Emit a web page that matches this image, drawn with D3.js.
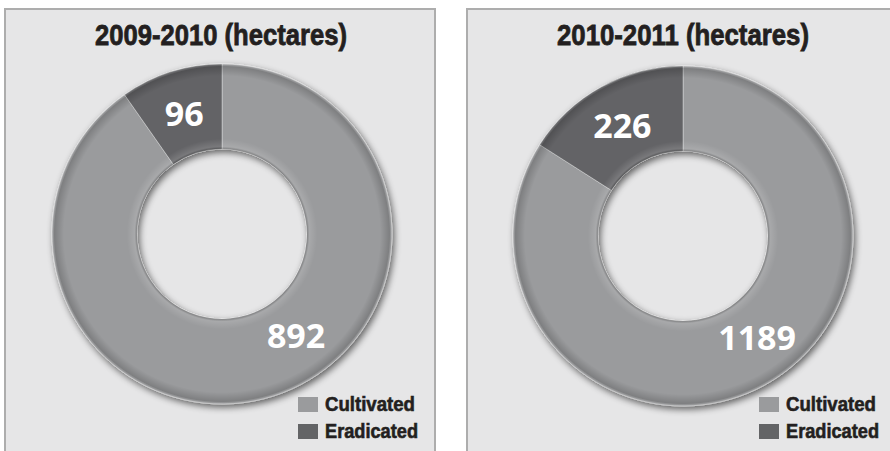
<!DOCTYPE html>
<html>
<head>
<meta charset="utf-8">
<script src="https://cdn.jsdelivr.net/npm/d3@7"></script>
<style>
  body { margin: 0; background: #fff; }
  svg { display: block; }
</style>
</head>
<body>
<div id="container"></div>
<script>
/* CONSTANTS AND GLOBALS */
const width = 890,
  height = 451,
  outerR = 170,
  innerR = 85

/* DATA */
const titles = ['2009-2010 (hectares)', '2010-2011 (hectares)']
const categories = ['Cultivated', 'Eradicated']
const values2009 = [892, 96]
const values2010 = [1189, 226]
const seriesValues = [values2009, values2010]

const colors = { Cultivated: '#9a9b9d', Eradicated: '#636466' }

// panel placement (left edge of each framed box)
const panelX = [5, 467]
const panelW = 430

// the condensed face isn't installed, so squeeze the text to the widths seen
const titleWidth = 252
const legendWidth = { Cultivated: 90, Eradicated: 93 }
const condensedFont = '"Liberation Sans", Arial, sans-serif'

const svg = d3.select('#container')
  .append('svg')
  .attr('width', width)
  .attr('height', height)

const defs = svg.append('defs')

// drop shadow for the rings
const shadow = defs.append('filter')
  .attr('id', 'shadow')
  .attr('x', '-20%').attr('y', '-20%')
  .attr('width', '140%').attr('height', '140%')
shadow.append('feGaussianBlur').attr('in', 'SourceAlpha').attr('stdDeviation', 3.5).attr('result', 'blur')
shadow.append('feOffset').attr('in', 'blur').attr('dx', 2).attr('dy', 3).attr('result', 'off')
shadow.append('feComponentTransfer').attr('in', 'off').attr('result', 'soft')
  .append('feFuncA').attr('type', 'linear').attr('slope', 0.6)
const merge = shadow.append('feMerge')
merge.append('feMergeNode').attr('in', 'soft')
merge.append('feMergeNode').attr('in', 'SourceGraphic')

// bevel shading across the ring thickness
const bevel = defs.append('radialGradient')
  .attr('id', 'bevel')
  .attr('cx', 0).attr('cy', 0).attr('r', outerR)
  .attr('gradientUnits', 'userSpaceOnUse')
const bevelStops = [
  [0.50, '#000', 0.25],
  [0.515, '#fff', 0.14],
  [0.56, '#fff', 0.0],
  [0.93, '#000', 0.0],
  [0.985, '#000', 0.18],
  [1.0, '#fff', 0.15]
]
bevel.selectAll('stop')
  .data(bevelStops)
  .join('stop')
  .attr('offset', d => d[0])
  .attr('stop-color', d => d[1])
  .attr('stop-opacity', d => d[2])

const pie = d3.pie()
  .sort(null)
  .value(d => d.value)

const arc = d3.arc()
  .innerRadius(innerR)
  .outerRadius(outerR)

const labelArc = d3.arc()
  .innerRadius(innerR - 3)
  .outerRadius(outerR)

// where the big cultivated number sits (clockwise angle from 12 o'clock)
const cultivatedLabelAngle = 144 * Math.PI / 180

seriesValues.forEach((vals, i) => {
  const data = categories.map((c, j) => ({ key: c, value: vals[j] }))
  const x0 = panelX[i]

  const panel = svg.append('g')
    .attr('transform', `translate(${x0}, 0)`)

  panel.append('rect')
    .attr('x', 0)
    .attr('y', 9)
    .attr('width', panelW)
    .attr('height', height + 20)
    .attr('fill', '#e6e6e7')
    .attr('stroke', '#adadad')
    .attr('stroke-width', 2)

  panel.append('text')
    .attr('x', panelW / 2 + 1)
    .attr('y', 45)
    .attr('text-anchor', 'middle')
    .attr('textLength', titleWidth)
    .attr('lengthAdjust', 'spacingAndGlyphs')
    .style('font-family', condensedFont)
    .style('font-weight', 'bold')
    .style('font-size', '30px')
    .style('fill', '#231f20')
    .style('stroke', '#231f20')
    .style('stroke-width', 0.8)
    .text(titles[i])

  const chart = panel.append('g')
    .attr('transform', `translate(${217 - (i ? 1 : 0)}, ${234 + i * 2})`)

  const arcs = pie(data)

  const ring = chart.append('g').attr('filter', 'url(#shadow)')

  ring.selectAll('path.slice')
    .data(arcs)
    .join('path')
    .attr('class', 'slice')
    .attr('d', arc)
    .attr('fill', d => colors[d.data.key])
    .attr('stroke', 'rgba(255,255,255,0.35)')
    .attr('stroke-width', 1)

  chart.append('path')
    .attr('d', d3.arc().innerRadius(innerR).outerRadius(outerR).startAngle(0).endAngle(2 * Math.PI)())
    .attr('fill', 'url(#bevel)')
    .style('pointer-events', 'none')

  chart.selectAll('text.value')
    .data(arcs)
    .join('text')
    .attr('class', 'value')
    .attr('transform', d => {
      let p
      if (d.data.key === 'Cultivated') {
        p = labelArc.centroid({ startAngle: cultivatedLabelAngle, endAngle: cultivatedLabelAngle })
      } else {
        p = labelArc.centroid(d)
      }
      return `translate(${p[0]}, ${p[1]})`
    })
    .attr('text-anchor', 'middle')
    .attr('dy', '0.36em')
    .style('font-family', '"Open Sans", "Noto Sans", sans-serif')
    .style('font-weight', 'bold')
    .style('font-size', '34px')
    .style('fill', '#ffffff')
    .text(d => d.data.value)

  // legend
  const legend = panel.append('g')
    .attr('transform', `translate(${293 - i}, 397)`)

  legend.selectAll('rect')
    .data(categories)
    .join('rect')
    .attr('x', 0)
    .attr('y', (d, k) => k * 27)
    .attr('width', 20)
    .attr('height', 15)
    .attr('fill', d => colors[d])

  legend.selectAll('text')
    .data(categories)
    .join('text')
    .attr('x', 27)
    .attr('y', (d, k) => k * 27 + 14)
    .attr('textLength', d => legendWidth[d])
    .attr('lengthAdjust', 'spacingAndGlyphs')
    .style('font-family', condensedFont)
    .style('font-weight', 'bold')
    .style('font-size', '20px')
    .style('fill', '#231f20')
    .style('stroke', '#231f20')
    .style('stroke-width', 0.6)
    .text(d => d)
})
</script>
</body>
</html>
